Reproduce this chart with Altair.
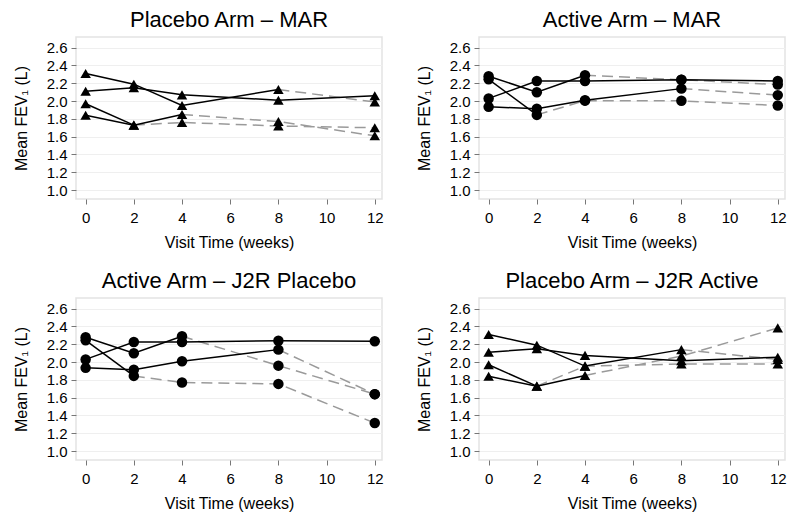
import altair as alt
import pandas as pd

weeks = [0, 2, 4, 8, 12]
x_ticks = [0, 2, 4, 6, 8, 10, 12]
y_ticks = [1.0, 1.2, 1.4, 1.6, 1.8, 2.0, 2.2, 2.4, 2.6]

titles = ["Placebo Arm \u2013 MAR", "Active Arm \u2013 MAR",
          "Active Arm \u2013 J2R Placebo", "Placebo Arm \u2013 J2R Active"]
markers = ["triangle-up", "circle", "circle", "triangle-up"]

# Each series: values at the visit weeks; last_obs = index of last observed visit
p1_a = [2.31, 2.19, 1.95, 2.13, 1.99]; p1_a_last = 3
p1_b = [2.11, 2.15, 2.07, 2.01, 2.06]; p1_b_last = 4
p1_c = [1.97, 1.73, 1.76, 1.72, 1.70]; p1_c_last = 1
p1_d = [1.84, 1.73, 1.85, 1.77, 1.61]; p1_d_last = 2

p2_a = [2.28, 2.10, 2.29, 2.24, 2.185]; p2_a_last = 2
p2_b = [2.245, 1.845, 2.005, 2.003, 1.951]; p2_b_last = 1
p2_c = [2.03, 2.225, 2.225, 2.24, 2.225]; p2_c_last = 4
p2_d = [1.935, 1.915, 2.01, 2.14, 2.067]; p2_d_last = 3

p3_a = [2.28, 2.10, 2.29, 1.96, 1.64]; p3_a_last = 2
p3_b = [2.245, 1.845, 1.77, 1.755, 1.315]; p3_b_last = 1
p3_c = [2.03, 2.225, 2.225, 2.24, 2.235]; p3_c_last = 4
p3_d = [1.935, 1.915, 2.01, 2.14, 1.64]; p3_d_last = 3

p4_a = [2.31, 2.19, 1.955, 2.14, 2.03]; p4_a_last = 3
p4_b = [2.11, 2.15, 2.075, 2.015, 2.055]; p4_b_last = 4
p4_c = [1.97, 1.73, 1.955, 1.978, 1.978]; p4_c_last = 1
p4_d = [1.84, 1.73, 1.85, 2.068, 2.384]; p4_d_last = 2

panels = [
    [("A", p1_a, p1_a_last), ("B", p1_b, p1_b_last), ("C", p1_c, p1_c_last), ("D", p1_d, p1_d_last)],
    [("A", p2_a, p2_a_last), ("B", p2_b, p2_b_last), ("C", p2_c, p2_c_last), ("D", p2_d, p2_d_last)],
    [("A", p3_a, p3_a_last), ("B", p3_b, p3_b_last), ("C", p3_c, p3_c_last), ("D", p3_d, p3_d_last)],
    [("A", p4_a, p4_a_last), ("B", p4_b, p4_b_last), ("C", p4_c, p4_c_last), ("D", p4_d, p4_d_last)],
]

FONT = "Liberation Sans"


def make_panel(idx):
    obs, imp, pts = [], [], []
    for sid, vals, last in panels[idx]:
        for i, (w, v) in enumerate(zip(weeks, vals)):
            pts.append({"series": sid, "week": w, "value": v})
            if i <= last:
                obs.append({"series": sid, "week": w, "value": v})
            if i >= last:
                imp.append({"series": sid, "week": w, "value": v})
    x = alt.X("week:Q",
              scale=alt.Scale(domain=[-0.4, 12.3], nice=False, zero=False),
              axis=alt.Axis(values=x_ticks, title="Visit Time (weeks)", grid=False,
                            format="d"))
    y = alt.Y("value:Q",
              scale=alt.Scale(domain=[0.9, 2.72], nice=False, zero=False),
              axis=alt.Axis(values=y_ticks, format=".1f", title="Mean FEV\u2081 (L)",
                            grid=True))
    dashed = alt.Chart(pd.DataFrame(imp)).mark_line(
        color="#9a9a9a", strokeWidth=1.5, strokeDash=[11, 6]
    ).encode(x=x, y=y, detail="series:N")
    solid = alt.Chart(pd.DataFrame(obs)).mark_line(
        color="black", strokeWidth=1.5
    ).encode(x=x, y=y, detail="series:N")
    points = alt.Chart(pd.DataFrame(pts)).mark_point(
        shape=markers[idx], filled=True, color="black", opacity=1, size=110
    ).encode(x=x, y=y)
    return alt.layer(dashed, solid, points).properties(
        width=306, height=162,
        title=alt.TitleParams(titles[idx], fontSize=22, fontWeight="normal",
                              font=FONT, color="black", offset=5)
    )


row1 = alt.hconcat(make_panel(0), make_panel(1), spacing=31)
row2 = alt.hconcat(make_panel(2), make_panel(3), spacing=31)
chart = alt.vconcat(row1, row2, spacing=18).configure(
    padding={"left": 4, "top": 0, "right": 0, "bottom": 0}
).configure_view(
    stroke="#e3e3e3", strokeWidth=1.5
).configure_axis(
    labelFont=FONT, titleFont=FONT, labelFontSize=15, titleFontSize=16,
    labelColor="black", titleColor="black", titleFontWeight="normal",
    tickColor="#777", tickSize=5, domainColor="#e3e3e3", domainWidth=1.5,
    gridColor="#efefef", gridWidth=1, labelPadding=4, titlePadding=9
).configure_axisX(
    domain=False, labelPadding=6
).configure_axisY(
    domain=False, titlePadding=17
)

chart.save("out.html", embed_options={"renderer": "svg", "actions": False})
